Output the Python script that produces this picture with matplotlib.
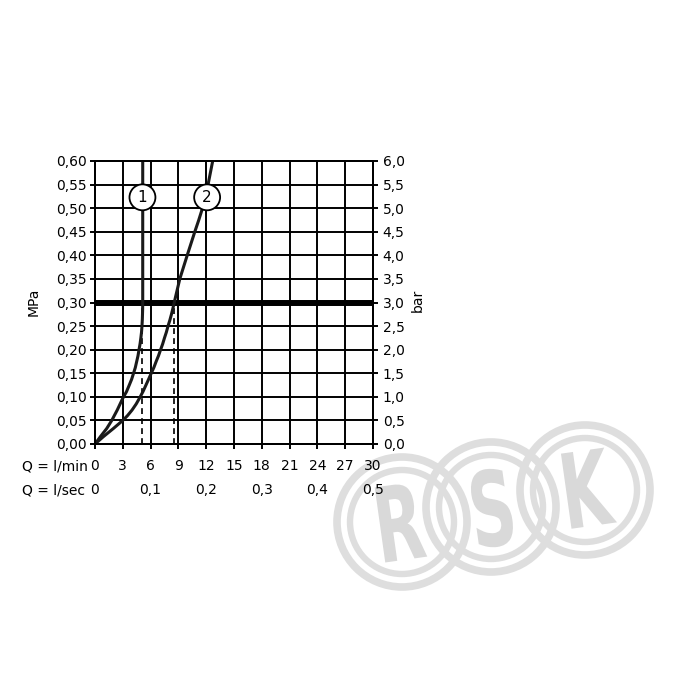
import matplotlib
matplotlib.use("Agg")
import matplotlib.pyplot as plt
from matplotlib.patches import Ellipse, Circle, PathPatch
from matplotlib.textpath import TextPath
from matplotlib.font_manager import FontProperties
from matplotlib.transforms import Affine2D

# ---- data ----
q_lmin_ticks = [0, 3, 6, 9, 12, 15, 18, 21, 24, 27, 30]
q_lsec_pos = [0, 6, 12, 18, 24, 30]
q_lsec_labels = ["0", "0,1", "0,2", "0,3", "0,4", "0,5"]
mpa_ticks = [0.00, 0.05, 0.10, 0.15, 0.20, 0.25, 0.30, 0.35, 0.40, 0.45, 0.50, 0.55, 0.60]
mpa_labels = ["0,00", "0,05", "0,10", "0,15", "0,20", "0,25", "0,30", "0,35", "0,40", "0,45", "0,50", "0,55", "0,60"]
bar_ticks = [0.0, 0.5, 1.0, 1.5, 2.0, 2.5, 3.0, 3.5, 4.0, 4.5, 5.0, 5.5, 6.0]
bar_labels = ["0,0", "0,5", "1,0", "1,5", "2,0", "2,5", "3,0", "3,5", "4,0", "4,5", "5,0", "5,5", "6,0"]

c1_q = [0, 0.6, 1.27, 1.81, 2.4, 3.0, 3.4, 3.7, 3.95, 4.16, 4.35, 4.5, 4.64, 4.75, 4.86, 4.95, 5.02, 5.07, 5.11, 5.14, 5.15, 5.15]
c1_p = [0, 0.016, 0.033, 0.05, 0.072, 0.097, 0.111, 0.125, 0.137, 0.15, 0.162, 0.175, 0.187, 0.20, 0.212, 0.225, 0.237, 0.25, 0.265, 0.285, 0.30, 0.60]
c2_q = [0, 0.9, 1.99, 3.0, 3.5, 4.0, 4.45, 4.88, 5.2, 5.5, 5.8, 6.07, 6.35, 6.6, 6.85, 7.08, 7.3, 7.5, 7.7, 7.88, 8.07, 8.25, 8.4, 8.55, 8.85, 9.15, 9.55, 9.95, 10.36, 10.77, 11.2, 11.6, 11.9, 12.2, 12.45, 12.7]
c2_p = [0, 0.0155, 0.033, 0.05, 0.06, 0.072, 0.085, 0.10, 0.112, 0.125, 0.138, 0.15, 0.162, 0.175, 0.187, 0.20, 0.212, 0.225, 0.237, 0.25, 0.262, 0.275, 0.287, 0.30, 0.325, 0.35, 0.375, 0.40, 0.425, 0.45, 0.475, 0.50, 0.525, 0.55, 0.575, 0.60]
ref_pressure = 0.30
flow_at_ref = [5.12, 8.5]
curve_labels = ["1", "2"]
label_pos = [(5.12, 0.523), (12.1, 0.523)]
watermark_letters = ["R", "S", "K"]

plt.rcParams['font.family'] = ['DejaVu Sans']
FS = 10

fig = plt.figure(figsize=(7, 7), dpi=100)

# watermark overlay (pixel coords, y down)
wm = fig.add_axes([0, 0, 1, 1], zorder=-1)
wm.set_xlim(0, 700)
wm.set_ylim(700, 0)
wm.axis('off')
grey = '#dedede'
rings = [(402, 522), (491, 507), (585, 490)]
letter_centres = [(401, 522), (492, 508), (589, 488)]
for cx, cy in rings:
    wm.add_patch(Circle((cx, cy), 65, fill=False, ec=grey, lw=5.5))
    wm.add_patch(Circle((cx, cy), 52, fill=False, ec=grey, lw=4.6))
fp = FontProperties(family='DejaVu Sans', weight='bold')
for ch, (lx, ly) in zip(watermark_letters, letter_centres):
    tp = TextPath((0, 0), ch, size=104, prop=fp)
    ext = tp.get_extents()
    mx, my = (ext.x0 + ext.x1) / 2, (ext.y0 + ext.y1) / 2
    t = (Affine2D().translate(-mx, -my).scale(0.62, -1.0)
         .rotate_deg(-8).translate(lx, ly)) + wm.transData
    wm.add_patch(PathPatch(tp, transform=t, fc='#d9d9d9', ec='none'))

L, R, T, B = 95, 373, 161, 444
ax = fig.add_axes([L / 700, 1 - B / 700, (R - L) / 700, (B - T) / 700], zorder=1)
ax.set_xlim(0, 30)
ax.set_ylim(0, 0.6)
ax.set_xticks(q_lmin_ticks)
ax.set_xticklabels([])
ax.set_yticks(mpa_ticks)
ax.set_yticklabels(mpa_labels, fontsize=FS)
ax.grid(True, color='black', lw=1.4)
ax.set_axisbelow(True)
for s in ax.spines.values():
    s.set_linewidth(1.4)
ax.tick_params(direction='out', length=3.5, width=1.4, pad=2.5, colors='black')

ax2 = ax.twinx()
ax2.set_ylim(0, 6)
ax2.set_yticks(bar_ticks)
ax2.set_yticklabels(bar_labels, fontsize=FS)
ax2.tick_params(direction='out', length=3.5, width=1.4, pad=3.5)
for s in ax2.spines.values():
    s.set_linewidth(1.4)

ax.axhline(ref_pressure, color='black', lw=4.3, zorder=3)
ax.plot(c1_q, c1_p, color='#1a1a1a', lw=2.2, zorder=4, solid_joinstyle='round', solid_capstyle='butt')
ax.plot(c2_q, c2_p, color='#1a1a1a', lw=2.2, zorder=4, solid_joinstyle='round', solid_capstyle='butt')
ax.vlines(flow_at_ref, 0, ref_pressure, colors='black', lw=1.2, linestyles=(0, (3.5, 2.5)), zorder=3)

for lab, (x, y) in zip(curve_labels, label_pos):
    ax.add_patch(Ellipse((x, y), 2.8, 0.055, fc='white', ec='black', lw=1.3, zorder=5))
    ax.text(x, y, lab, ha='center', va='center', fontsize=11, zorder=6)

tr = ax.get_xaxis_transform()
y1 = -(466 - B) / (B - T)
y2 = -(490 - B) / (B - T)
for q in q_lmin_ticks:
    ax.text(q, y1, str(q), transform=tr, ha='center', va='center', fontsize=FS, clip_on=False)
for q, lab in zip(q_lsec_pos, q_lsec_labels):
    ax.text(q, y2, lab, transform=tr, ha='center', va='center', fontsize=FS, clip_on=False)

fig.text(22 / 700, 1 - 466 / 700, "Q = l/min", ha='left', va='center', fontsize=FS)
fig.text(22 / 700, 1 - 490 / 700, "Q = l/sec", ha='left', va='center', fontsize=FS)
fig.text(34 / 700, 1 - 302 / 700, "MPa", rotation=90, ha='center', va='center', fontsize=FS)
fig.text(418 / 700, 1 - 300 / 700, "bar", rotation=90, ha='center', va='center', fontsize=FS)

fig.savefig("out.png", dpi=100, facecolor='white')
